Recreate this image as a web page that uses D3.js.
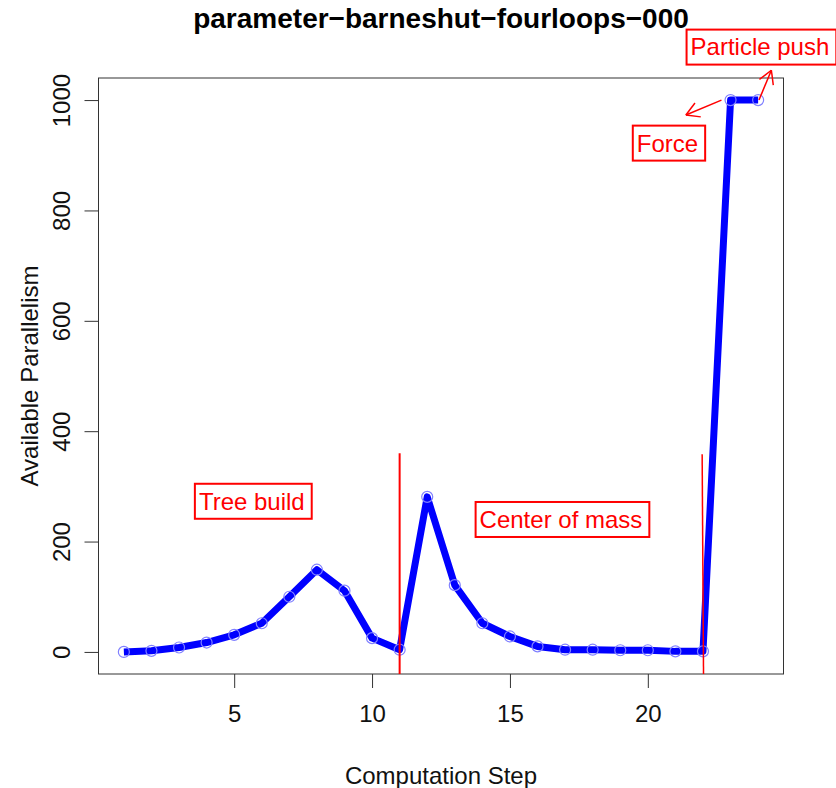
<!DOCTYPE html>
<html>
<head>
<meta charset="utf-8">
<title>parameter-barneshut-fourloops-000</title>
<style>
  body { margin: 0; background: #fff; }
  text { font-family: "Liberation Sans", Arial, sans-serif; }
</style>
</head>
<body>
<svg id="chart" width="836" height="788"></svg>
<script src="https://cdn.jsdelivr.net/npm/d3@7"></script>
<script>
// data
var steps = d3.range(1, 25);
var parallelism = [0, 2, 8, 17, 31, 52, 100, 149, 111, 25, 4,
                   281, 121, 52, 28, 10, 4, 4, 3, 3, 1, 1, 1000, 1000];
var xTicks = [5, 10, 15, 20];
var yTicks = [0, 200, 400, 600, 800, 1000];

// phase separators and labels (data coords)
var phaseLines = [ {x0: 11, x1: 11, top: 360}, {x0: 21.97, x1: 22.02, top: 358} ];
var phaseLabels = [
  {label: "Tree build",     x: 3.72,  y: 273},
  {label: "Center of mass", x: 13.9,  y: 240},
  {label: "Force",          x: 19.6,  y: 922},
  {label: "Particle push",  x: 21.55, y: 1096}
];
var arrows = [
  {x0: 22.67, y0: 1000, x1: 21.38, y1: 973},
  {x0: 24.03, y0: 1000, x1: 24.48, y1: 1054}
];

var svg = d3.select("#chart");

// R style: 4% padding on both axes
var x = d3.scaleLinear().domain([0.08, 24.92]).range([98.5, 783.5]);
var y = d3.scaleLinear().domain([-40, 1040]).range([674, 78]);

svg.append("text")
    .attr("x", 441).attr("y", 28)
    .attr("text-anchor", "middle")
    .style("font-weight", "bold").style("font-size", "28px")
    .text("parameter\u2212barneshut\u2212fourloops\u2212000");

// plot box
svg.append("rect")
    .attr("x", x.range()[0]).attr("y", y.range()[1])
    .attr("width", x.range()[1] - x.range()[0])
    .attr("height", y.range()[0] - y.range()[1])
    .attr("fill", "none").attr("stroke", "#333").attr("stroke-width", 1);

// axes
var xAxis = svg.append("g")
    .attr("transform", `translate(0,${y.range()[0]})`)
    .call(d3.axisBottom(x).tickValues(xTicks).tickSize(14).tickPadding(17));
var yAxis = svg.append("g")
    .attr("transform", `translate(${x.range()[0]},0)`)
    .call(d3.axisLeft(y).tickValues(yTicks).tickFormat(d3.format("d")).tickSize(14).tickPadding(0));

[xAxis, yAxis].forEach(function(g) {
  g.select(".domain").remove();
  g.selectAll("line").attr("stroke", "#333");
  g.selectAll("text").style("font-size", "24px")
    .attr("fill", "#111").attr("font-family", "Liberation Sans, Arial, sans-serif");
});
yAxis.selectAll("text")
    .attr("x", null).attr("dy", null)
    .attr("text-anchor", "middle")
    .attr("transform", "translate(-29,0) rotate(-90)");

svg.append("text")
    .attr("x", 441).attr("y", 784)
    .attr("text-anchor", "middle").style("font-size", "24px").attr("fill", "#111")
    .text("Computation Step");
svg.append("text")
    .attr("transform", `translate(38,${(y.range()[0] + y.range()[1]) / 2}) rotate(-90)`)
    .attr("text-anchor", "middle").style("font-size", "24px").attr("fill", "#111")
    .text("Available Parallelism");

// data line
var pts = steps.map((s, i) => [s, parallelism[i]]);
svg.append("path")
    .datum(pts)
    .attr("fill", "none").attr("stroke", "#0000ff")
    .attr("stroke-width", 7).attr("stroke-linejoin", "round")
    .attr("d", d3.line().x(d => x(d[0])).y(d => y(d[1])));

svg.selectAll("circle.pt")
    .data(pts)
    .join("circle")
    .attr("class", "pt")
    .attr("cx", d => x(d[0])).attr("cy", d => y(d[1]))
    .attr("r", 5.5)
    .attr("fill", "none").attr("stroke", "#8080ff").attr("stroke-width", 1.2);

// phase separators
svg.selectAll("line.phase")
    .data(phaseLines)
    .join("line")
    .attr("class", "phase")
    .attr("x1", d => x(d.x0)).attr("y1", d => y(d.top))
    .attr("x2", d => x(d.x1)).attr("y2", y.range()[0])
    .attr("stroke", "red").attr("stroke-width", (d, i) => i === 0 ? 2 : 1.5);

// labels with boxes
var lab = svg.selectAll("g.lab")
    .data(phaseLabels)
    .join("g")
    .attr("class", "lab");
lab.append("text")
    .attr("x", d => x(d.x))
    .attr("y", d => y(d.y))
    .attr("dy", "0.35em")
    .style("font-size", "24px")
    .attr("fill", "red")
    .text(d => d.label);
lab.each(function() {
  var g = d3.select(this);
  var b = g.select("text").node().getBBox();
  g.insert("rect", "text")
      .attr("x", b.x - 4).attr("y", y(g.datum().y) - 17.5)
      .attr("width", b.width + 11).attr("height", 35)
      .attr("fill", "white").attr("stroke", "red").attr("stroke-width", 2);
});

// arrows
arrows.forEach(function(a) {
  var px0 = x(a.x0), py0 = y(a.y0), px1 = x(a.x1), py1 = y(a.y1);
  var ang = Math.atan2(py1 - py0, px1 - px0);
  var len = 15, spread = Math.PI / 6;
  var g = svg.append("g").attr("stroke", "red").attr("stroke-width", 1.5).attr("fill", "none");
  g.append("line").attr("x1", px0).attr("y1", py0).attr("x2", px1).attr("y2", py1);
  [-spread, spread].forEach(function(s) {
    g.append("line")
        .attr("x1", px1).attr("y1", py1)
        .attr("x2", px1 - len * Math.cos(ang + s))
        .attr("y2", py1 - len * Math.sin(ang + s));
  });
});
</script>
</body>
</html>
